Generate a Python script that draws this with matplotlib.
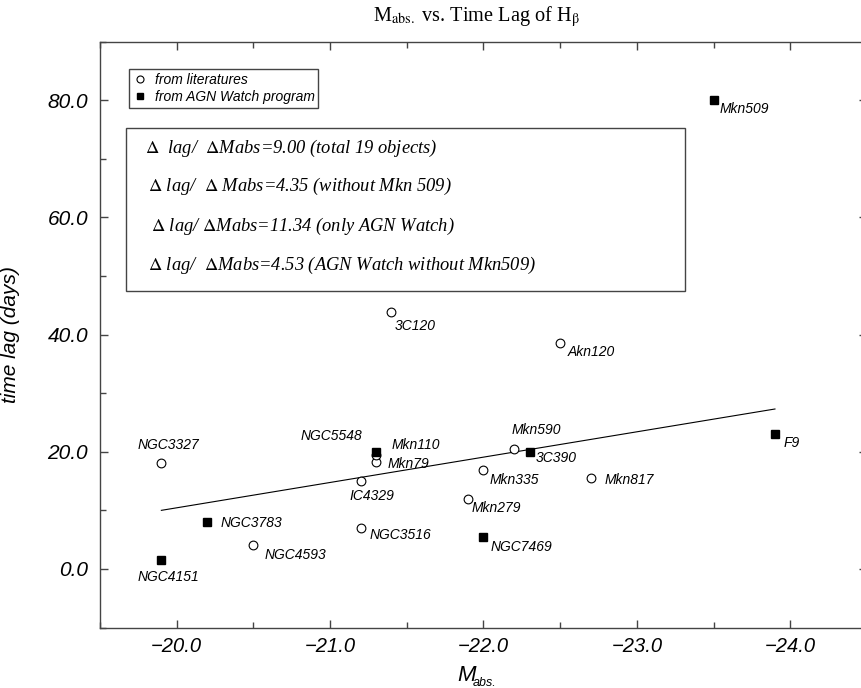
import numpy as np
import matplotlib.pyplot as plt
from matplotlib.patches import Rectangle
from matplotlib.ticker import MultipleLocator, FuncFormatter

plt.rcParams['mathtext.fontset'] = 'stix'

# objects from literature (open circles)
lit_names = ['NGC3327', 'NGC4593', 'NGC3516', 'IC4329', 'Mkn79', 'Mkn110',
             'Mkn279', 'Mkn335', 'Mkn590', 'Mkn817', '3C120', 'Akn120']
lit_mabs = [-19.9, -20.5, -21.2, -21.2, -21.3, -21.3,
            -21.9, -22.0, -22.2, -22.7, -21.4, -22.5]
lit_lag = [18.0, 4.1, 7.0, 15.0, 18.2, 19.4,
           12.0, 16.9, 20.5, 15.5, 43.8, 38.6]

# objects from AGN Watch (filled squares)
agn_names = ['NGC4151', 'NGC3783', 'NGC5548', 'NGC7469', '3C390', 'F9', 'Mkn509']
agn_mabs = [-19.9, -20.2, -21.3, -22.0, -22.3, -23.9, -23.5]
agn_lag = [1.5, 8.0, 20.0, 5.4, 20.0, 23.0, 80.0]

# fitted line (slope 4.35)
fit_x = [-19.9, -23.9]
fit_y = [10.0, 27.3]

stats = [r'$\Delta$  lag/  $\Delta$Mabs=9.00 (total 19 objects)',
         r'$\Delta$ lag/  $\Delta$ Mabs=4.35 (without Mkn 509)',
         r'$\Delta$ lag/ $\Delta$Mabs=11.34 (only AGN Watch)',
         r'$\Delta$ lag/  $\Delta$Mabs=4.53 (AGN Watch without Mkn509)']

# label placement: offset in pixels and horizontal alignment
lab_pos = {
    'NGC3327': (7, 18, 'center'), 'NGC4151': (7, -17, 'center'),
    'NGC3783': (13, -1, 'left'), 'NGC4593': (11, -10, 'left'),
    'NGC3516': (9, -7, 'left'), 'IC4329': (11, -15, 'center'),
    'Mkn79': (11, -2, 'left'), 'Mkn110': (15, 10, 'left'),
    'NGC5548': (-14, 16, 'right'), 'Mkn279': (3, -9, 'left'),
    'Mkn335': (6, -10, 'left'), 'NGC7469': (7, -10, 'left'),
    'Mkn590': (22, 19, 'center'), '3C390': (6, -6, 'left'),
    'Mkn817': (14, -2, 'left'), 'F9': (9, -9, 'left'),
    '3C120': (3, -14, 'left'), 'Akn120': (7, -9, 'left'),
    'Mkn509': (6, -9, 'left'),
}

W, H = 862, 688
fig = plt.figure(figsize=(W / 100, H / 100), dpi=100)
ax = fig.add_axes([100 / W, (H - 627.5) / H, 767 / W, 585.8 / H])

sans = 'Liberation Sans'
spine_c = '#444444'

ax.plot(fit_x, fit_y, color='black', lw=0.8)
lit = ax.plot(lit_mabs, lit_lag, 'o', ms=6.3, mfc='white', mec='black', mew=0.8,
              label='from literatures')[0]
agn = ax.plot(agn_mabs, agn_lag, 's', ms=5.5, color='black',
              label='from AGN Watch program')[0]

for names, xs, ys in [(lit_names, lit_mabs, lit_lag), (agn_names, agn_mabs, agn_lag)]:
    for n, x, y in zip(names, xs, ys):
        dx, dy, ha = lab_pos[n]
        ax.annotate(n, (x, y), xytext=(dx, dy), textcoords='offset pixels',
                    ha=ha, va='center', fontsize=10, fontstyle='italic', family=sans)

ax.set_xlim(-19.5, -24.5)
ax.set_ylim(-10, 90)
ax.xaxis.set_major_locator(MultipleLocator(1))
ax.xaxis.set_minor_locator(MultipleLocator(0.5))
ax.yaxis.set_major_locator(MultipleLocator(20))
ax.yaxis.set_minor_locator(MultipleLocator(10))
fmt = FuncFormatter(lambda v, p: ('%.1f' % v).replace('-', '\u2212'))
ax.xaxis.set_major_formatter(fmt)
ax.yaxis.set_major_formatter(fmt)
ax.tick_params(which='both', direction='in', top=True, right=True, color=spine_c)
ax.tick_params(which='major', length=6, width=1)
ax.tick_params(which='minor', length=4, width=1)
ax.tick_params(axis='x', pad=7)
ax.tick_params(axis='y', pad=8.5)
for lab in ax.get_xticklabels():
    lab.set_fontstyle('italic')
    lab.set_family(sans)
    lab.set_fontsize(14.5)
for lab in ax.get_yticklabels():
    lab.set_fontstyle('italic')
    lab.set_family(sans)
    lab.set_fontsize(15)
for s in ax.spines.values():
    s.set_color(spine_c)
    s.set_linewidth(1)

ax.set_ylabel('time lag (days)', fontsize=15, fontstyle='italic', family=sans)
ax.yaxis.set_label_coords((20 - 100) / 767, 0.5)

# x label M_abs.
fig.text(457 / W, 1 - 681 / H, 'M', fontsize=16, fontstyle='italic', family=sans,
         ha='left', va='baseline')
fig.text(473 / W, 1 - 686 / H, 'abs.', fontsize=9, fontstyle='italic', family=sans,
         ha='left', va='baseline')

fig.text(476 / W, 1 - 17 / H, r'M$_{\mathrm{abs.}}$ vs. Time Lag of H$_{\mathrm{\beta}}$',
         ha='center', va='center', fontsize=14.6, family='Liberation Serif')

leg = ax.legend(handles=[lit, agn], loc='upper left',
                bbox_to_anchor=((129.3 - 100) / 767, (627.5 - 69.3) / 585.8),
                borderaxespad=0, fancybox=False, edgecolor=spine_c, framealpha=1,
                prop={'family': sans, 'style': 'italic', 'size': 10},
                handlelength=1.0, handletextpad=0.6, labelspacing=0.25,
                borderpad=0.25, markerscale=0.8)
leg.get_frame().set_linewidth(1)

fig.patches.append(Rectangle((125.7 / W, 1 - 291 / H), 559.3 / W, 163.3 / H,
                             transform=fig.transFigure, fill=False,
                             edgecolor=spine_c, lw=1))
stat_x = [145, 148, 151, 148]
stat_y = [148.3, 186.7, 226.7, 265]
for t, sx, sy in zip(stats, stat_x, stat_y):
    fig.text(sx / W, 1 - sy / H, t, fontsize=13.3, fontstyle='italic',
             family='Liberation Serif', va='center', ha='left')

fig.savefig('out.png', dpi=100)
